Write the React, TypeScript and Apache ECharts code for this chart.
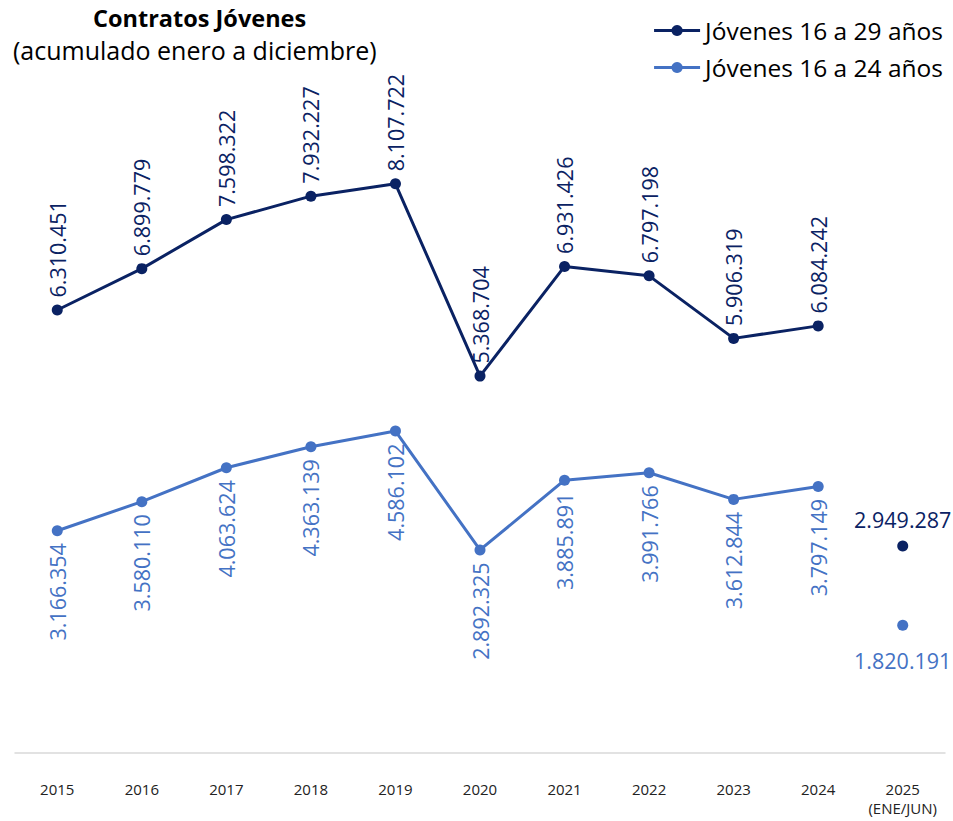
import React, { useEffect, useRef } from "react";
import * as echarts from "echarts";

const categories = ["2015", "2016", "2017", "2018", "2019", "2020", "2021", "2022", "2023", "2024", "2025\n(ENE/JUN)"];
const young16to29 = [6310451, 6899779, 7598322, 7932227, 8107722, 5368704, 6931426, 6797198, 5906319, 6084242];
const young16to24 = [3166354, 3580110, 4063624, 4363139, 4586102, 2892325, 3885891, 3991766, 3612844, 3797149];
const partial2025_29 = 2949287;
const partial2025_24 = 1820191;
const seriesNames = ["Jóvenes 16 a 29 años", "Jóvenes 16 a 24 años"];

const DARK = "#0a2263";
const LIGHT = "#4472c4";
const FONT = "'Open Sans', 'Noto Sans', sans-serif";

const fmt = (v: number) => String(v).replace(/\B(?=(\d{3})+(?!\d))/g, ".");

export default function App() {
  const ref = useRef<HTMLDivElement>(null);
  useEffect(() => {
    if (!ref.current) return;
    const chart = echarts.init(ref.current, undefined, { renderer: "svg" });
    const pad = (arr: number[]) => [...arr, "-"];
    const only2025 = (v: number) => [...Array(categories.length - 1).fill("-"), v];
    chart.setOption({
      animation: false,
      textStyle: { fontFamily: FONT },
      graphic: [
        {
          type: "text",
          left: 93,
          top: 5,
          style: { text: "Contratos Jóvenes", font: `bold 23.5px ${FONT}`, lineHeight: 26, fill: "#000" },
        },
        {
          type: "text",
          left: 13,
          top: 37,
          style: { text: "(acumulado enero a diciembre)", font: `25px ${FONT}`, lineHeight: 26, fill: "#000" },
        },
      ],
      legend: {
        data: seriesNames,
        orient: "vertical",
        right: 5,
        top: 13,
        itemGap: 12,
        itemWidth: 46,
        itemHeight: 14,
        lineStyle: { width: 3 },
        textStyle: { fontSize: 24.5, color: "#000", fontFamily: FONT },
      },
      grid: { left: 15, right: 8, top: 51, bottom: 68 },
      xAxis: {
        type: "category",
        data: categories,
        boundaryGap: true,
        axisLine: { lineStyle: { color: "#d9d9d9", width: 1.5 } },
        axisTick: { show: false },
        axisLabel: { interval: 0, fontSize: 15, color: "#222", margin: 26, lineHeight: 19, fontFamily: FONT },
      },
      yAxis: { type: "value", min: 0, max: 10000000, show: false, splitLine: { show: false } },
      series: [
        {
          name: seriesNames[0],
          type: "line",
          data: pad(young16to29),
          symbol: "circle",
          symbolSize: 11,
          lineStyle: { color: DARK, width: 3 },
          itemStyle: { color: DARK },
          label: {
            show: true,
            position: "top",
            distance: 7,
            rotate: 90,
            align: "left",
            verticalAlign: "middle",
            fontSize: 21.5,
            color: DARK,
            fontFamily: FONT,
            formatter: (p: any) => fmt(p.value),
          },
        },
        {
          name: seriesNames[1],
          type: "line",
          data: pad(young16to24),
          symbol: "circle",
          symbolSize: 11,
          lineStyle: { color: LIGHT, width: 3 },
          itemStyle: { color: LIGHT },
          label: {
            show: true,
            position: "bottom",
            distance: 7,
            rotate: 90,
            align: "right",
            verticalAlign: "middle",
            fontSize: 21.5,
            color: LIGHT,
            fontFamily: FONT,
            formatter: (p: any) => fmt(p.value),
          },
        },
        {
          name: "2025a",
          type: "scatter",
          data: only2025(partial2025_29),
          symbol: "circle",
          symbolSize: 11,
          itemStyle: { color: DARK, opacity: 1 },
          label: {
            show: true,
            position: "top",
            distance: 10,
            fontSize: 21.5,
            fontWeight: 500,
            color: DARK,
            fontFamily: FONT,
            formatter: (p: any) => fmt(p.value),
          },
        },
        {
          name: "2025b",
          type: "scatter",
          data: only2025(partial2025_24),
          symbol: "circle",
          symbolSize: 11,
          itemStyle: { color: LIGHT, opacity: 1 },
          label: {
            show: true,
            position: "bottom",
            distance: 19,
            fontSize: 21.5,
            color: LIGHT,
            fontFamily: FONT,
            formatter: (p: any) => fmt(p.value),
          },
        },
      ],
    });
    return () => chart.dispose();
  }, []);
  return <div ref={ref} style={{ width: 953, height: 821, position: "absolute", left: 0, top: 0 }} />;
}
